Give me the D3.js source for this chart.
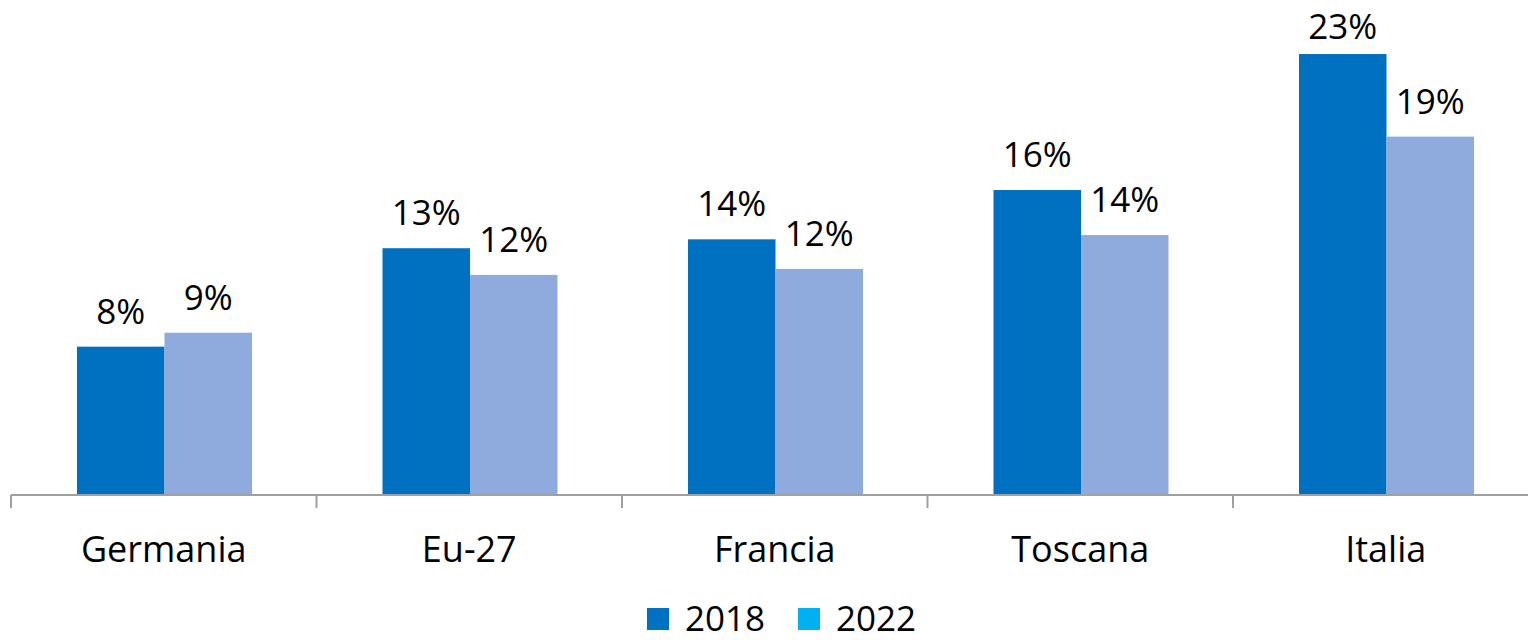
<!DOCTYPE html>
<html>
<head>
<meta charset="utf-8">
<script src="https://cdn.jsdelivr.net/npm/d3@7"></script>
<style>
  body { margin: 0; background: #fff; }
  text { font-family: "Open Sans", sans-serif; fill: #000; }
</style>
</head>
<body>
<div id="chart"></div>
<script>
// data
const categories = ["Germania", "Eu-27", "Francia", "Toscana", "Italia"];
const years = ["2018", "2022"];
const values2018 = [8.17, 13.26, 13.72, 16.27, 23.3];
const values2022 = [8.89, 11.88, 12.19, 13.94, 19.03];

const barColors = { "2018": "#0070C0", "2022": "#8FAADC" };
const legendColors = { "2018": "#0070C0", "2022": "#00B0F0" };

const width = 1528, height = 640;
const axisY = 495;

const data = categories.map((c, i) => ({
  key: c,
  vals: [
    { year: "2018", value: values2018[i] },
    { year: "2022", value: values2022[i] },
  ],
}));

const svg = d3
  .select("#chart")
  .append("svg")
  .attr("width", width)
  .attr("height", height);

// x scales: one band per category, inner band per year
var x = d3.scaleBand().domain(categories).range([11, 1538.5]);
var x1 = d3.scaleBand().domain(years).range([66, 241]);

// y scale (value axis not drawn)
var y = d3.scaleLinear().domain([0.5, 25]).range([axisY, axisY - 24.5 * 19.34]);

const g = svg
  .selectAll("g.cat")
  .data(data)
  .enter()
  .append("g")
  .attr("class", "cat")
  .attr("transform", (d) => "translate(" + x(d.key) + ",0)");

g.selectAll("rect")
  .data((d) => d.vals)
  .enter()
  .append("rect")
  .attr("x", (d) => x1(d.year))
  .attr("y", (d) => y(d.value))
  .attr("width", x1.bandwidth())
  .attr("height", (d) => axisY - y(d.value))
  .attr("fill", (d) => barColors[d.year]);

// value labels (pushed down when they would leave the top edge)
g.selectAll("text.val")
  .data((d) => d.vals)
  .enter()
  .append("text")
  .attr("class", "val")
  .attr("text-anchor", "middle")
  .attr("x", (d) => x1(d.year) + x1.bandwidth() / 2)
  .attr("y", (d) => Math.max(y(d.value) - 23, 39))
  .style("font-size", "35px")
  .text((d) => d3.format(".0f")(d.value) + "%");

// category axis
svg
  .append("line")
  .attr("x1", x(categories[0]))
  .attr("x2", width)
  .attr("y1", axisY)
  .attr("y2", axisY)
  .attr("stroke", "#A0A0A0")
  .attr("stroke-width", 2);

svg
  .selectAll("line.tick")
  .data(categories)
  .enter()
  .append("line")
  .attr("class", "tick")
  .attr("x1", (d) => x(d))
  .attr("x2", (d) => x(d))
  .attr("y1", axisY)
  .attr("y2", axisY + 13)
  .attr("stroke", "#A0A0A0")
  .attr("stroke-width", 2);

svg
  .selectAll("text.cat")
  .data(categories)
  .enter()
  .append("text")
  .attr("class", "cat")
  .attr("text-anchor", "middle")
  .attr("x", (d) => x(d) + x.bandwidth() / 2)
  .attr("y", axisY + 67)
  .style("font-size", "36px")
  .text((d) => d);

// legend (kept just inside the bottom edge)
const legendX = [647, 798];
const legendBase = 631;
const leg = svg
  .selectAll("g.legend")
  .data(years)
  .enter()
  .append("g")
  .attr("class", "legend")
  .attr("transform", (d, i) => "translate(" + legendX[i] + ",0)");

leg
  .append("rect")
  .attr("x", 0)
  .attr("y", legendBase - 23)
  .attr("width", 22)
  .attr("height", 22)
  .attr("fill", (d) => legendColors[d]);

leg
  .append("text")
  .attr("x", 38)
  .attr("y", legendBase)
  .style("font-size", "35px")
  .text((d) => d);
</script>
</body>
</html>
